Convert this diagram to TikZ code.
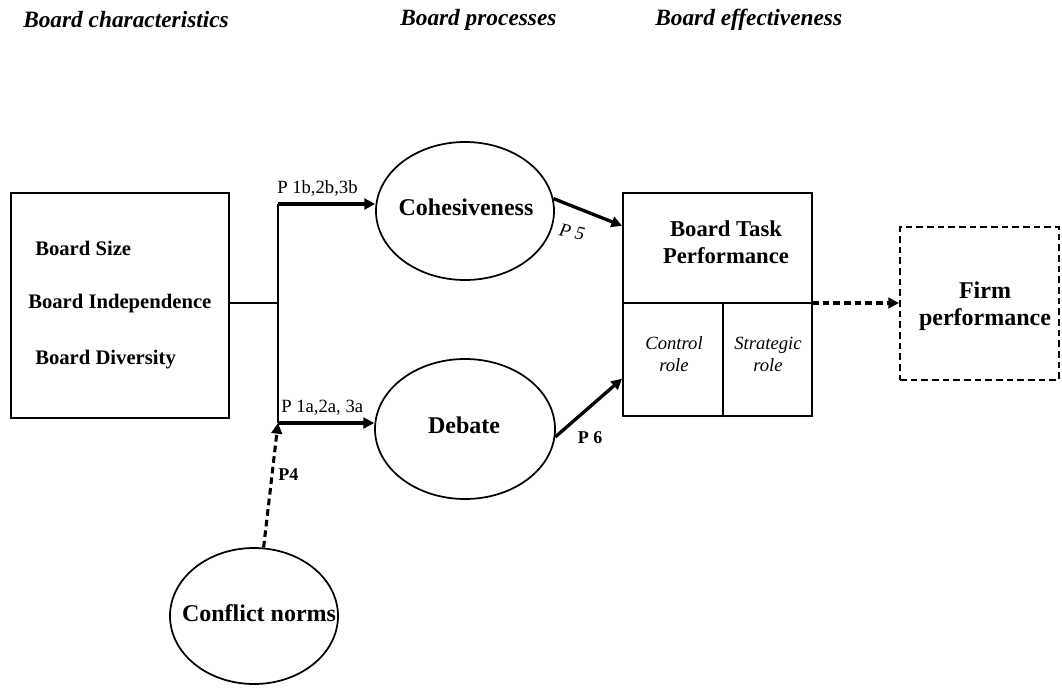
\documentclass[tikz,border=0pt]{standalone}
\usepackage{fontspec}
\setmainfont{Liberation Serif}
\usetikzlibrary{arrows.meta,calc,shapes.geometric}
\begin{document}
\begin{tikzpicture}[x=0.75pt,y=-0.75pt,
  hdr/.style={anchor=west,inner sep=0pt,font=\fontsize{17.5}{20}\selectfont\bfseries\itshape},
  boxln/.style={draw,line width=1.4pt},
  ell/.style={ellipse,draw,line width=1.3pt,inner sep=0pt},
  etxt/.style={inner sep=0pt,font=\fontsize{18}{21}\selectfont\bfseries},
  conn/.style={line width=1.7pt},
  arr/.style={line width=2.5pt,-{Triangle[length=8pt,width=8pt]}},
  darr/.style={line width=2.3pt,dash pattern=on 5pt off 3pt,-{Triangle[length=8pt,width=8pt]}},
  lbl/.style={inner sep=0pt,font=\fontsize{14}{16}\selectfont},
  blbl/.style={inner sep=0pt,font=\fontsize{13.5}{16}\selectfont\bfseries},
  item/.style={anchor=west,inner sep=0pt,font=\fontsize{15.5}{18}\selectfont\bfseries},
  role/.style={inner sep=0pt,align=center,font=\fontsize{14}{16.5}\selectfont\itshape}
]
\useasboundingbox (0,0) rectangle (1062,692);

% headers
\node[hdr] (h1) at (23,20) {Board characteristics};
\node[hdr] (h2) at (400,20) {Board processes};
\node[hdr] (h3) at (655,20) {Board effectiveness};

% left box
\node[boxln,minimum width=163.5pt,minimum height=168.75pt,inner sep=0pt] (left) at (120,305.5) {};
\node[item] (bs) at (35,248) {Board Size};
\node[item] (bi) at (28,304) {Board Independence};
\node[item] (bd) at (35,360) {Board Diversity};

% ellipses
\node[ell,minimum width=133.5pt,minimum height=103.5pt] (coh) at (465,211) {};
\node[etxt] (coht) at (466,207) {Cohesiveness};
\node[ell,minimum width=135pt,minimum height=105pt] (deb) at (465,429) {};
\node[etxt] (debt) at (464,425) {Debate};
\node[ell,minimum width=126pt,minimum height=102pt] (conf) at (254,616) {};
\node[etxt] (conft) at (259,613) {Conflict norms};

% task box
\node[boxln,minimum width=141.75pt,minimum height=167.25pt,inner sep=0pt] (task) at (717.5,304.5) {};
\coordinate (dl) at (623,303);
\coordinate (dr) at (812,303);
\draw[line width=1.4pt] (dl) -- (dr);
\coordinate (vd) at (723,303);
\draw[line width=1.4pt] (vd) -- (vd |- task.south);
\node[inner sep=0pt,align=center,font=\fontsize{17}{20.5}\selectfont\bfseries] (btp) at (726,242.5) {Board Task\\Performance};
\node[role] (ctl) at (674,354) {Control\\role};
\node[role] (str) at (768,354) {Strategic\\role};

% firm box
\node[draw,line width=1.6pt,dash pattern=on 5pt off 3pt,minimum width=119.25pt,minimum height=114.75pt,inner sep=0pt] (firm) at (979.5,303.5) {};
\node[inner sep=0pt,align=center,font=\fontsize{18}{20.5}\selectfont\bfseries] (fp) at (985,306.5) {Firm\\performance};

% junction coordinates
\coordinate (jt) at (278,204);
\coordinate (jm) at (278,303);
\coordinate (jb) at (278,423);

\draw[conn] (left.east |- jm) -- (jm);
\draw[conn] (jt) -- (jb);
\draw[arr] (jt) -- (jt -| coh.west);
\draw[arr] (jb) -- (jb -| deb.west);

\coordinate (t5) at ($(task.north west)!0.15!(task.south west)$);
\coordinate (t6) at ($(task.north west)!0.83!(task.south west)$);
\draw[arr] (coh.8) -- (t5);
\draw[arr] (deb.-5) -- (t6);
\draw[darr] (conf.82) -- (jb);
\draw[darr] (dr) -- (dr -| firm.west);

% labels
\node[lbl,anchor=west] (l1) at (277,188) {P 1b,2b,3b};
\node[lbl,anchor=west] (l2) at (281,408) {P 1a,2a, 3a};
\node[lbl,font=\fontsize{14}{16}\selectfont\itshape,rotate=-12] (p5) at (572,232) {P 5};
\node[blbl] (p6) at (590,438) {P 6};
\node[blbl,anchor=west] (p4) at (278,475) {P4};
\end{tikzpicture}
\end{document}
